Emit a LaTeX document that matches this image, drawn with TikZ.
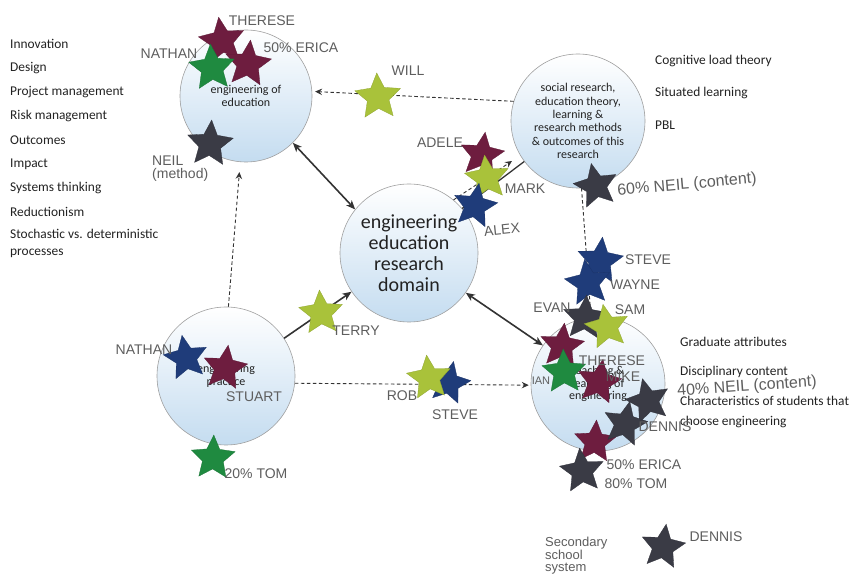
\documentclass[tikz,border=0pt]{standalone}
\usepackage{fontspec}
\setmainfont{Carlito}
\newfontfamily\hand{Liberation Sans}
\usetikzlibrary{shapes.geometric,arrows.meta}
\definecolor{mar}{HTML}{6E1D3F}
\definecolor{grn}{HTML}{1F8A40}
\definecolor{lime}{HTML}{A9C23A}
\definecolor{navy}{HTML}{1F3C7A}
\definecolor{drk}{HTML}{3A3B45}
\definecolor{bluefill}{HTML}{C4DCF0}
\definecolor{linkc}{HTML}{333333}
\definecolor{handc}{HTML}{5E5E5E}
\definecolor{typec}{HTML}{222222}
\tikzset{
  bubble/.style={circle, draw=gray!75, line width=0.6pt, top color=white, bottom color=bluefill,
    inner sep=0pt, align=center, text=typec, font=\fontsize{12}{13.5}\selectfont},
  stella/.style={star, star points=5, star point ratio=2.1, minimum size=48pt, inner sep=0pt,
    fill=#1, draw=#1!85!black, line width=0.3pt},
  hand/.style={font=\hand\fontsize{14}{14}\selectfont, text=handc, inner sep=0pt},
  typed/.style={font=\fontsize{13.4}{15}\selectfont, text=typec, anchor=west, inner sep=0pt},
  link/.style={draw=linkc, line width=1.6pt, >={Stealth[length=9pt,width=7.5pt,inset=2.5pt]}},
  dlink/.style={draw=linkc, line width=0.9pt, dash pattern=on 3.5pt off 2.5pt,
    >={Stealth[length=7pt,width=6.5pt,inset=2.5pt]}}
}
\begin{document}
\begin{tikzpicture}[x=1pt,y=-1pt]
\useasboundingbox (0,0) rectangle (855,585);
\fill[white] (0,0) rectangle (855,585);

% circles
\node[bubble, minimum size=132pt] (edu) at (246,96) {engineering of\\education};
\node[bubble, minimum size=134pt, font=\fontsize{12}{13.3}\selectfont] (soc) at (578,121)
  {social research,\\education theory,\\learning \&\\research methods\\\& outcomes of this\\research};
\node[bubble, minimum size=138pt, font=\fontsize{20}{20.8}\selectfont] (dom) at (409,253)
  {engineering\\education\\research\\domain};
\node[bubble, minimum size=138pt] (prac) at (226,376) {engineering\\practice};
\node[bubble, minimum size=134pt, font=\fontsize{12}{12.8}\selectfont] (teach) at (598,384)
  {teaching \&\\learning of\\engineering};

% connectors
\coordinate (dtip) at (512,161);
\draw[link, <->] (edu.-45) -- (dom.141);
\draw[link, ->] (prac.33) -- (dom.214);
\draw[link, <->] (dom.-35) -- (teach.145);
\draw[link, line width=1.3pt] (dom.40) -- (soc.217);
\draw[dlink, ->] (dom.50) -- (dtip);
\draw[dlink, ->, shorten >=3pt] (soc.163) -- (edu.4);
\draw[dlink, ->, shorten >=10pt] (prac.88) -- (edu.-95);
\draw[dlink, ->, shorten >=2pt] (prac.-6) -- (teach.181);
\draw[dlink] (soc.-87) -- (teach.96);

% typed lists
\node[typed] (l1) at (10,44) {Innovation};
\node[typed] (l2) at (10,68) {Design};
\node[typed] (l3) at (10,92) {Project management};
\node[typed] (l4) at (10,116) {Risk management};
\node[typed] (l5) at (10,140) {Outcomes};
\node[typed] (l6) at (10,164) {Impact};
\node[typed] (l7) at (10,188) {Systems thinking};
\node[typed] (l8) at (10,212) {Reductionism};
\node[typed, anchor=north west, align=left, font=\fontsize{13.4}{17}\selectfont] (l9) at (10,229)
  {Stochastic vs. deterministic\\processes};
\node[typed] (r1) at (655,61) {Cognitive load theory};
\node[typed] (r2) at (655,93) {Situated learning};
\node[typed] (r3) at (655,125) {PBL};
\node[typed] (g1) at (680,342) {Graduate attributes};
\node[typed] (g2) at (680,372) {Disciplinary content};
\node[typed, anchor=north west, align=left, font=\fontsize{13.4}{20}\selectfont] (g3) at (680,396)
  {Characteristics of students that\\choose engineering};

% stars: engineering of education
\node[stella=mar, shape border rotate=8] (s1) at (222,41) {};
\node[stella=mar, shape border rotate=-6] (s2) at (248,64) {};
\node[stella=grn, shape border rotate=4] (s3) at (212,68) {};
\node[stella=drk, shape border rotate=-4] (s4) at (210,144) {};
\node[stella=lime, shape border rotate=3] (s5) at (378,97) {};
% social research
\node[stella=mar, minimum size=46pt, shape border rotate=-8] (s6) at (482,155) {};
\node[stella=lime, minimum size=46pt, shape border rotate=6] (s7) at (487,178) {};
\node[stella=navy, minimum size=46pt, shape border rotate=-10] (s8) at (475,206) {};
\node[stella=drk, minimum size=46pt, shape border rotate=12] (s9) at (596,186) {};
% teaching cluster
\node[stella=navy, shape border rotate=-6] (t1) at (600,261) {};
\node[stella=navy, shape border rotate=8] (t2) at (588,283) {};
\node[stella=drk, minimum size=46pt, shape border rotate=-4] (t3) at (585,318) {};
\node[stella=lime, minimum size=46pt, shape border rotate=10] (t4) at (607,327) {};
\node[stella=mar, minimum size=46pt, shape border rotate=-6] (t5) at (562,346) {};
\node[stella=grn, minimum size=46pt, shape border rotate=2] (t6) at (564,372) {};
\node[stella=mar, minimum size=46pt, shape border rotate=-10] (t7) at (599,382) {};
\node[stella=drk, minimum size=46pt, shape border rotate=14] (t8) at (648,401) {};
\node[stella=mar, minimum size=44pt, shape border rotate=-4] (t10) at (595,442) {};
\node[stella=drk, minimum size=46pt, shape border rotate=-12] (t9) at (625,424) {};
\node[stella=drk, minimum size=46pt, shape border rotate=6] (t11) at (582,471) {};
% practice cluster
\node[stella=navy, minimum size=46pt, shape border rotate=10] (p1) at (186,358) {};
\node[stella=mar, minimum size=46pt, shape border rotate=-8] (p2) at (225,368) {};
\node[stella=lime, minimum size=46pt, shape border rotate=4] (p3) at (321,313) {};
\node[stella=grn, minimum size=46pt, shape border rotate=-2] (p4) at (213,458) {};
% rob/steve
\node[stella=navy, minimum size=44pt, shape border rotate=-12] (q2) at (449,383) {};
\node[stella=lime, minimum size=46pt, shape border rotate=6] (q1) at (429,378) {};
% secondary school
\node[stella=drk, minimum size=46pt, shape border rotate=-8] (b1) at (663,547) {};

% handwritten labels
\node[hand] (h1) at (262,21) {THERESE};
\node[hand] (h2) at (169,54) {NATHAN};
\node[hand] (h3) at (301,48) {50\% ERICA};
\node[hand, anchor=north west, align=left, font=\hand\fontsize{14}{13}\selectfont] (h4) at (152,156) {NEIL\\(method)};
\node[hand] (h5) at (408,71) {WILL};
\node[hand] (h6) at (440,143) {ADELE};
\node[hand] (h7) at (525,189) {MARK};
\node[hand, rotate=6] (h8) at (502,230) {ALEX};
\node[hand, rotate=5, font=\hand\fontsize{16}{16}\selectfont] (h9) at (687,185) {60\% NEIL (content)};
\node[hand] (h10) at (648,260) {STEVE};
\node[hand] (h11) at (635,285) {WAYNE};
\node[hand] (h12) at (552,308) {EVAN};
\node[hand] (h13) at (630,310) {SAM};
\node[hand] (h14) at (612,361) {THERESE};
\node[hand] (h15) at (623,377) {MIKE};
\node[hand, font=\hand\fontsize{11}{11}\selectfont] (h16) at (541,381) {IAN};
\node[hand, rotate=4, font=\hand\fontsize{16}{16}\selectfont] (h17) at (747,387) {40\% NEIL (content)};
\node[hand] (h18) at (665,427) {DENNIS};
\node[hand] (h19) at (644,465) {50\% ERICA};
\node[hand] (h20) at (636,484) {80\% TOM};
\node[hand] (h21) at (144,350) {NATHAN};
\node[hand] (h22) at (254,397) {STUART};
\node[hand] (h23) at (356,331) {TERRY};
\node[hand] (h24) at (256,474) {20\% TOM};
\node[hand] (h25) at (402,396) {ROB};
\node[hand] (h26) at (455,415) {STEVE};
\node[hand, anchor=north west, align=left, font=\hand\fontsize{13}{11.5}\selectfont] (h27) at (545,537) {Secondary\\school\\system};
\node[hand] (h28) at (716,537) {DENNIS};
\end{tikzpicture}
\end{document}
